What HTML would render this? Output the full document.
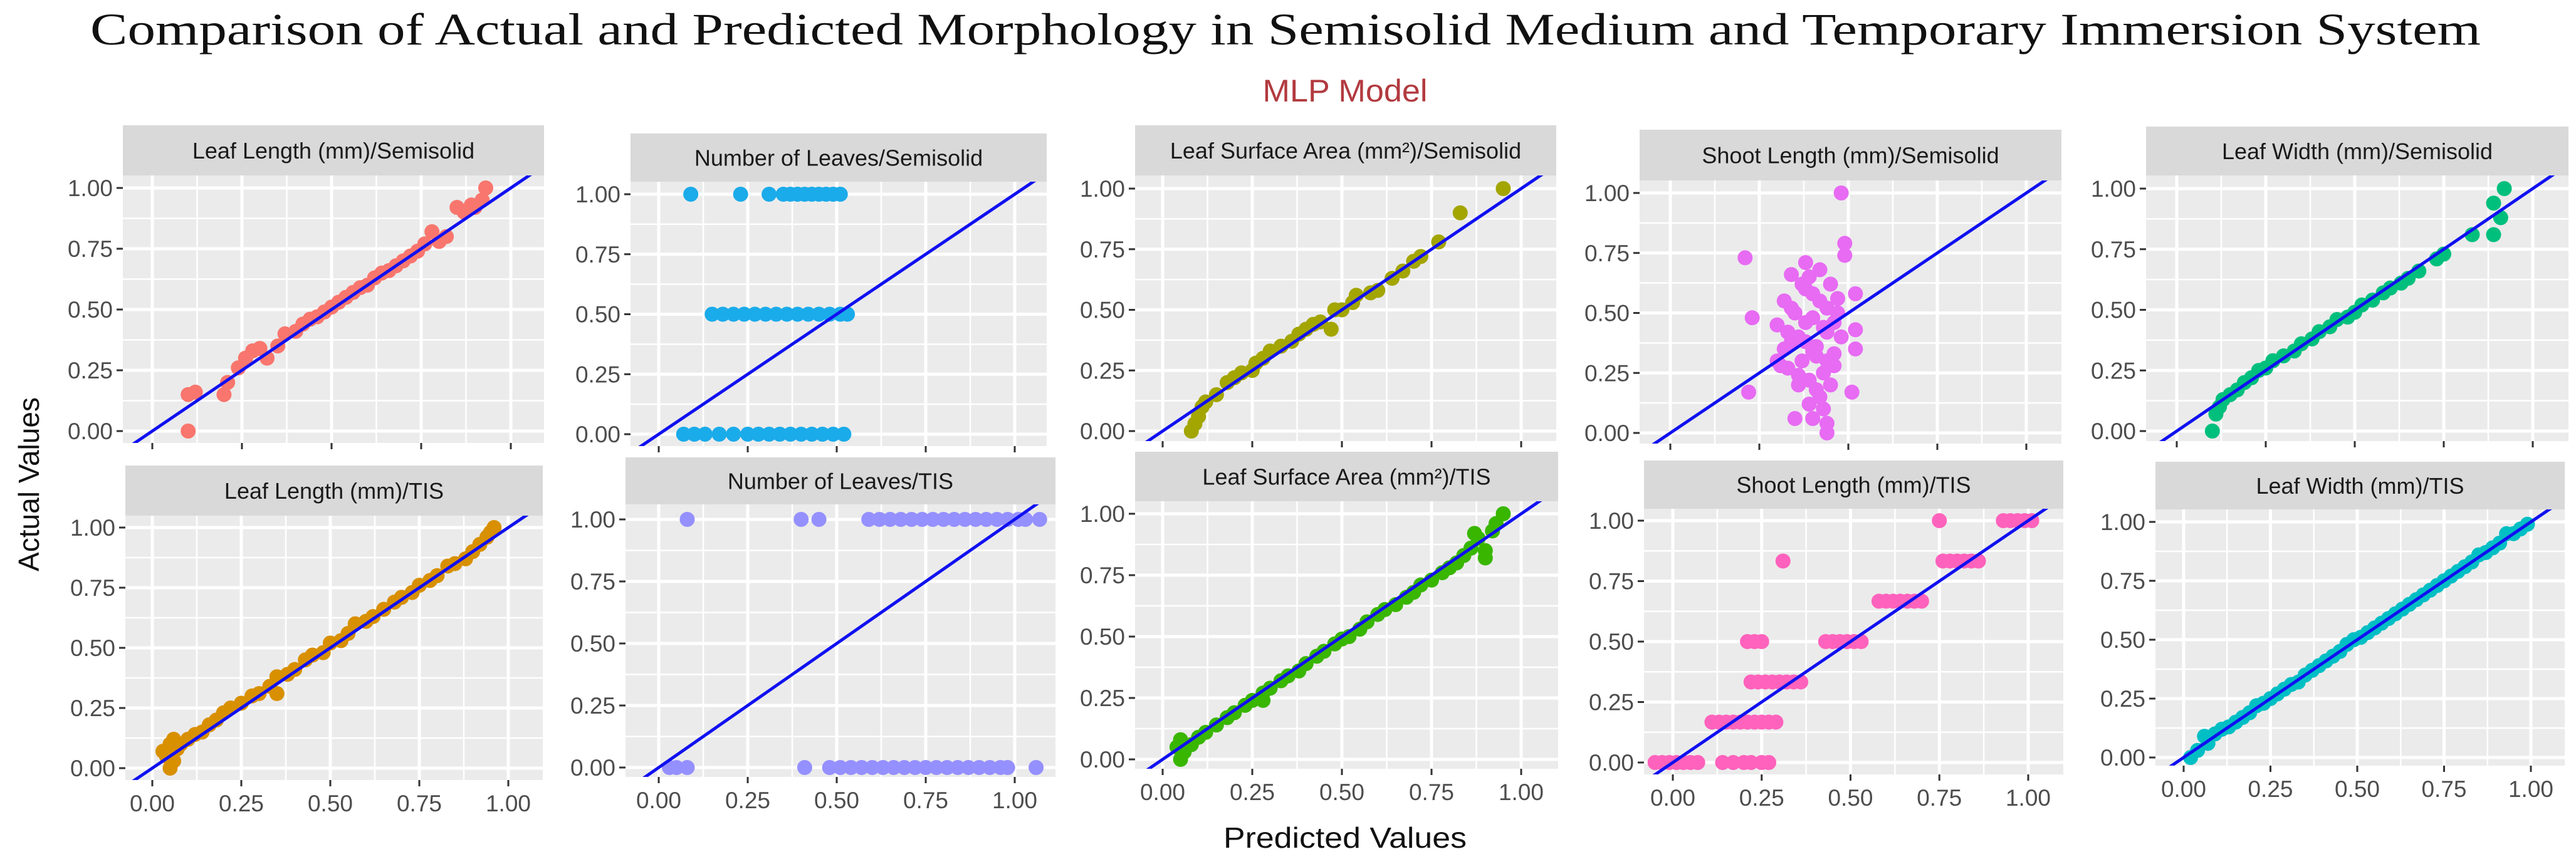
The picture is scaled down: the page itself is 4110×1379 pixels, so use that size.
<!DOCTYPE html>
<html><head><meta charset="utf-8"><title>MLP Model comparison</title>
<style>html,body{margin:0;padding:0;background:#fff}svg{display:block}</style></head>
<body>
<svg id="chart" width="4110" height="1379" viewBox="0 0 4110 1379" xmlns="http://www.w3.org/2000/svg">
<rect x="0" y="0" width="4110" height="1379" fill="#fff"/>
<text x="2051" y="71" text-anchor="middle" font-family="Liberation Serif, serif" font-size="72" fill="#111" textLength="3814" lengthAdjust="spacingAndGlyphs">Comparison of Actual and Predicted Morphology in Semisolid Medium and Temporary Immersion System</text>
<text x="2146" y="162" text-anchor="middle" font-family="Liberation Sans, sans-serif" font-size="50" fill="#b23a3f" textLength="263" lengthAdjust="spacingAndGlyphs">MLP Model</text>
<text x="0" y="0" transform="translate(62,773) rotate(-90)" text-anchor="middle" font-family="Liberation Sans, sans-serif" font-size="46" fill="#111">Actual Values</text>
<text x="2146" y="1353" text-anchor="middle" font-family="Liberation Sans, sans-serif" font-size="46" fill="#111" textLength="388" lengthAdjust="spacingAndGlyphs">Predicted Values</text>
<g id="panels"></g>
</svg>
<script>
// ---- data (predicted, actual) per panel ----
const llSemiPred=[0.10,0.10,0.12,0.20,0.21,0.24,0.26,0.28,0.30,0.32,0.35,0.37,0.40,0.42,0.44,0.46,0.48,0.50,0.52,0.54,0.56,0.58,0.60,0.62,0.64,0.66,0.68,0.70,0.72,0.74,0.76,0.78,0.80,0.82,0.85,0.87,0.89,0.90,0.92,0.93];
const llSemiAct=[0.00,0.15,0.16,0.15,0.20,0.26,0.30,0.33,0.34,0.30,0.35,0.40,0.41,0.44,0.46,0.47,0.49,0.51,0.53,0.55,0.57,0.59,0.60,0.63,0.65,0.66,0.68,0.70,0.72,0.74,0.77,0.82,0.78,0.80,0.92,0.90,0.93,0.92,0.95,1.00];
const nlSemiPred=[0.09,0.23,0.31,0.35,0.37,0.39,0.41,0.43,0.45,0.47,0.49,0.51,0.15,0.18,0.21,0.24,0.27,0.30,0.33,0.36,0.39,0.42,0.45,0.48,0.51,0.53,0.07,0.10,0.13,0.17,0.21,0.25,0.28,0.31,0.34,0.37,0.40,0.43,0.46,0.49,0.52];
const nlSemiAct=[1,1,1,1,1,1,1,1,1,1,1,1,0.5,0.5,0.5,0.5,0.5,0.5,0.5,0.5,0.5,0.5,0.5,0.5,0.5,0.5,0,0,0,0,0,0,0,0,0,0,0,0,0,0,0];
const lsaSemiPred=[0.08,0.09,0.10,0.11,0.12,0.15,0.18,0.20,0.22,0.25,0.26,0.28,0.30,0.33,0.36,0.38,0.40,0.42,0.44,0.47,0.48,0.50,0.53,0.54,0.58,0.60,0.64,0.67,0.70,0.72,0.77,0.83,0.95];
const lsaSemiAct=[0.00,0.03,0.06,0.10,0.12,0.15,0.20,0.22,0.24,0.25,0.28,0.30,0.33,0.35,0.37,0.40,0.42,0.44,0.45,0.42,0.50,0.50,0.53,0.56,0.57,0.58,0.63,0.66,0.70,0.72,0.78,0.90,1.00];
const slSemiPred=[0.48,0.21,0.23,0.22,0.44,0.44,0.51,0.49,0.49,0.38,0.34,0.52,0.52,0.52,0.35,0.40,0.30,0.32,0.33,0.34,0.36,0.37,0.38,0.39,0.40,0.41,0.42,0.43,0.44,0.45,0.46,0.47,0.31,0.33,0.36,0.38,0.40,0.42,0.44,0.46,0.48,0.35,0.37,0.39,0.41,0.43,0.45,0.47,0.34,0.38,0.42,0.46,0.36,0.40,0.44,0.32,0.30,0.43,0.39,0.41];
const slSemiAct=[1.00,0.73,0.48,0.17,0.00,0.04,0.17,0.79,0.74,0.71,0.66,0.58,0.43,0.35,0.06,0.06,0.45,0.35,0.27,0.52,0.40,0.30,0.60,0.22,0.48,0.36,0.55,0.25,0.42,0.62,0.33,0.50,0.28,0.42,0.20,0.38,0.58,0.15,0.30,0.46,0.40,0.50,0.62,0.12,0.32,0.44,0.20,0.56,0.38,0.46,0.68,0.28,0.24,0.34,0.52,0.55,0.30,0.10,0.65,0.18];
const lwSemiPred=[0.10,0.11,0.12,0.13,0.15,0.17,0.19,0.21,0.23,0.25,0.27,0.30,0.33,0.35,0.38,0.40,0.43,0.45,0.48,0.50,0.52,0.55,0.58,0.60,0.63,0.65,0.68,0.73,0.75,0.83,0.89,0.89,0.91,0.92];
const lwSemiAct=[0.00,0.07,0.10,0.13,0.15,0.17,0.20,0.22,0.25,0.26,0.29,0.31,0.33,0.36,0.38,0.41,0.43,0.46,0.47,0.49,0.52,0.54,0.57,0.59,0.61,0.63,0.66,0.71,0.73,0.81,0.81,0.94,0.88,1.00];
const llTisPred=[0.03,0.04,0.05,0.05,0.06,0.06,0.07,0.08,0.10,0.12,0.14,0.16,0.18,0.20,0.22,0.25,0.28,0.30,0.33,0.35,0.35,0.38,0.40,0.43,0.45,0.48,0.50,0.53,0.55,0.57,0.60,0.62,0.65,0.68,0.70,0.73,0.75,0.78,0.80,0.83,0.85,0.88,0.90,0.92,0.94,0.96,0.95];
const llTisAct=[0.07,0.05,0.10,0.00,0.12,0.03,0.08,0.10,0.12,0.14,0.15,0.18,0.20,0.23,0.25,0.27,0.30,0.31,0.34,0.38,0.31,0.39,0.41,0.45,0.47,0.48,0.52,0.53,0.56,0.60,0.61,0.63,0.66,0.69,0.71,0.73,0.76,0.78,0.80,0.84,0.85,0.87,0.90,0.93,0.96,1.00,0.98];
const nlTisPred=[0.08,0.40,0.45,0.59,0.62,0.65,0.68,0.71,0.74,0.77,0.80,0.83,0.86,0.89,0.92,0.95,0.98,1.01,1.03,1.07,0.03,0.05,0.08,0.41,0.48,0.51,0.54,0.57,0.60,0.63,0.66,0.69,0.72,0.75,0.78,0.81,0.84,0.87,0.90,0.93,0.96,0.98,1.06];
const nlTisAct=[1,1,1,1,1,1,1,1,1,1,1,1,1,1,1,1,1,1,1,1,0,0,0,0,0,0,0,0,0,0,0,0,0,0,0,0,0,0,0,0,0,0,0];
const lsaTisPred=[0.04,0.05,0.06,0.05,0.08,0.10,0.12,0.15,0.18,0.20,0.23,0.25,0.28,0.28,0.30,0.33,0.35,0.38,0.40,0.43,0.45,0.48,0.50,0.52,0.55,0.57,0.60,0.62,0.65,0.68,0.70,0.72,0.75,0.78,0.80,0.82,0.84,0.86,0.87,0.88,0.90,0.90,0.92,0.93,0.95];
const lsaTisAct=[0.05,0.00,0.03,0.08,0.06,0.09,0.11,0.14,0.17,0.19,0.22,0.24,0.27,0.24,0.29,0.32,0.34,0.36,0.39,0.42,0.44,0.47,0.49,0.50,0.53,0.56,0.59,0.61,0.63,0.66,0.68,0.71,0.73,0.76,0.78,0.80,0.83,0.86,0.92,0.90,0.82,0.85,0.93,0.96,1.00];
const slTisPred=[-0.05,-0.03,-0.01,0.01,0.03,0.05,0.07,0.14,0.17,0.20,0.22,0.25,0.27,0.11,0.13,0.15,0.17,0.19,0.21,0.23,0.25,0.27,0.29,0.22,0.24,0.26,0.28,0.30,0.32,0.34,0.36,0.21,0.23,0.25,0.43,0.45,0.47,0.49,0.51,0.53,0.58,0.60,0.62,0.64,0.66,0.68,0.70,0.31,0.76,0.78,0.80,0.82,0.84,0.86,0.75,0.93,0.95,0.97,0.99,1.01];
const slTisAct=[0,0,0,0,0,0,0,0,0,0,0,0,0,0.167,0.167,0.167,0.167,0.167,0.167,0.167,0.167,0.167,0.167,0.333,0.333,0.333,0.333,0.333,0.333,0.333,0.333,0.5,0.5,0.5,0.5,0.5,0.5,0.5,0.5,0.5,0.667,0.667,0.667,0.667,0.667,0.667,0.667,0.833,0.833,0.833,0.833,0.833,0.833,0.833,1,1,1,1,1,1];
const lwTisPred=[0.02,0.04,0.06,0.07,0.09,0.11,0.13,0.15,0.17,0.19,0.21,0.23,0.25,0.27,0.29,0.31,0.33,0.35,0.37,0.39,0.41,0.43,0.45,0.47,0.49,0.51,0.53,0.55,0.57,0.59,0.61,0.63,0.65,0.67,0.69,0.71,0.73,0.75,0.77,0.79,0.81,0.83,0.85,0.87,0.89,0.91,0.93,0.95,0.97,0.99];
const lwTisAct=[0.00,0.03,0.09,0.06,0.10,0.12,0.13,0.15,0.17,0.19,0.22,0.23,0.25,0.27,0.29,0.31,0.32,0.35,0.37,0.39,0.41,0.43,0.45,0.48,0.50,0.51,0.53,0.55,0.57,0.59,0.61,0.63,0.65,0.67,0.69,0.71,0.73,0.75,0.77,0.79,0.81,0.83,0.86,0.87,0.89,0.91,0.95,0.95,0.97,0.99];
const tickVals=[0,0.25,0.5,0.75,1];
const tickLabels=["0.00","0.25","0.50","0.75","1.00"];

// ---- layout ----
const panels=[
 {name:'leaf-length-semisolid',title:'Leaf Length (mm)/Semisolid',L:196,R:868,sT:200,sB:280,pB:707,x0:243,x1:815,y1:300,y0:688,c:'#F8766D',px:llSemiPred,py:llSemiAct,xl:false},
 {name:'number-of-leaves-semisolid',title:'Number of Leaves/Semisolid',L:1006,R:1670,sT:213,sB:290,pB:712,x0:1051,x1:1619,y1:310,y0:693,c:'#1AABEA',px:nlSemiPred,py:nlSemiAct,xl:false},
 {name:'leaf-surface-area-semisolid',title:'Leaf Surface Area (mm²)/Semisolid',L:1811,R:2483,sT:200,sB:280,pB:704,x0:1855,x1:2427,y1:301,y0:688,c:'#A3A500',px:lsaSemiPred,py:lsaSemiAct,xl:false},
 {name:'shoot-length-semisolid',title:'Shoot Length (mm)/Semisolid',L:2616,R:3289,sT:207,sB:288,pB:708,x0:2665,x1:3233,y1:308,y0:691,c:'#E76BF3',px:slSemiPred,py:slSemiAct,xl:false},
 {name:'leaf-width-semisolid',title:'Leaf Width (mm)/Semisolid',L:3424,R:4098,sT:202,sB:280,pB:704,x0:3473,x1:4041,y1:301,y0:688,c:'#00BF7D',px:lwSemiPred,py:lwSemiAct,xl:false},
 {name:'leaf-length-tis',title:'Leaf Length (mm)/TIS',L:200,R:866,sT:743,sB:823,pB:1245,x0:243,x1:811,y1:842,y0:1226,c:'#D89000',px:llTisPred,py:llTisAct,xl:true},
 {name:'number-of-leaves-tis',title:'Number of Leaves/TIS',L:998,R:1684,sT:730,sB:805,pB:1240,x0:1051,x1:1619,y1:829,y0:1225,c:'#9590FF',px:nlTisPred,py:nlTisAct,xl:true},
 {name:'leaf-surface-area-tis',title:'Leaf Surface Area (mm²)/TIS',L:1811,R:2486,sT:721,sB:800,pB:1227,x0:1855,x1:2427,y1:820,y0:1212,c:'#39B600',px:lsaTisPred,py:lsaTisAct,xl:true},
 {name:'shoot-length-tis',title:'Shoot Length (mm)/TIS',L:2623,R:3292,sT:735,sB:812,pB:1236,x0:2669,x1:3236,y1:831,y0:1217,c:'#FF62BC',px:slTisPred,py:slTisAct,xl:true},
 {name:'leaf-width-tis',title:'Leaf Width (mm)/TIS',L:3439,R:4092,sT:737,sB:813,pB:1222,x0:3484,x1:4038,y1:833,y0:1209,c:'#00BFC4',px:lwTisPred,py:lwTisAct,xl:true}
];
const NS='http://www.w3.org/2000/svg';
const root=document.getElementById('panels');
function mk(tag,attrs,parent){const e=document.createElementNS(NS,tag);for(const k in attrs)e.setAttribute(k,attrs[k]);parent.appendChild(e);return e;}
panels.forEach((p,i)=>{
  const g=mk('g',{},root);
  
  
  const sx=v=>p.x0+v*(p.x1-p.x0);
  const sy=v=>p.y0-v*(p.y0-p.y1);
  const xmin=(p.L-p.x0)/(p.x1-p.x0), xmax=(p.R-p.x0)/(p.x1-p.x0);
  const ymin=(p.y0-p.pB)/(p.y0-p.y1), ymax=(p.y0-p.sB)/(p.y0-p.y1);
  const strip=mk('rect',{x:p.L,y:p.sT,width:p.R-p.L,height:p.sB-p.sT,fill:'#D9D9D9'},g);
  
  
  const st=mk('text',{x:(p.L+p.R)/2,y:(p.sT+p.sB)/2+13,'text-anchor':'middle','font-family':'Liberation Sans, sans-serif','font-size':36,fill:'#1a1a1a'},g);
  st.textContent=p.title;
  
  
  const bg=mk('rect',{x:p.L,y:p.sB,width:p.R-p.L,height:p.pB-p.sB,fill:'#EBEBEB'},g);
  
  
  for(let k=Math.ceil(xmin*8);k<=Math.floor(xmax*8);k++){
    const v=k/8, maj=k%2===0;
    const l=mk('line',{x1:sx(v),x2:sx(v),y1:p.sB,y2:p.pB,stroke:'#fff','stroke-width':maj?5:2.5},g);
    
    
  }
  for(let k=Math.ceil(ymin*8);k<=Math.floor(ymax*8);k++){
    const v=k/8, maj=k%2===0;
    const l=mk('line',{x1:p.L,x2:p.R,y1:sy(v),y2:sy(v),stroke:'#fff','stroke-width':maj?5:2.5},g);
    
    
  }
  const cp=mk('clipPath',{id:'clip'+i},g);
  mk('rect',{x:p.L,y:p.sB,width:p.R-p.L,height:p.pB-p.sB},cp);
  const pts=mk('g',{'clip-path':'url(#clip'+i+')'},g);
  
  
  p.px.forEach((v,j)=>{
    const c=mk('circle',{cx:sx(v),cy:sy(p.py[j]),r:12,fill:p.c},pts);
    
    
  });
  const ln=mk('line',{x1:sx(-0.2),y1:sy(-0.2),x2:sx(1.3),y2:sy(1.3),stroke:'#1010F0','stroke-width':5,'clip-path':'url(#clip'+i+')'},g);
  
  
  tickVals.forEach((v,j)=>{
    const t=mk('line',{x1:p.L-10,x2:p.L,y1:sy(v),y2:sy(v),stroke:'#333','stroke-width':3},g);
    
    
    const tl=mk('text',{x:p.L-16,y:sy(v)+13,'text-anchor':'end','font-family':'Liberation Sans, sans-serif','font-size':37,fill:'#4d4d4d'},g);
    tl.textContent=tickLabels[j];
    
    
    const xt=mk('line',{x1:sx(v),x2:sx(v),y1:p.pB,y2:p.pB+10,stroke:'#333','stroke-width':3},g);
    
    
    if(p.xl){
      const xl=mk('text',{x:sx(v),y:p.pB+50,'text-anchor':'middle','font-family':'Liberation Sans, sans-serif','font-size':37,fill:'#4d4d4d'},g);
      xl.textContent=tickLabels[j];
      
      
    }
  });
});
</script>
</body></html>
